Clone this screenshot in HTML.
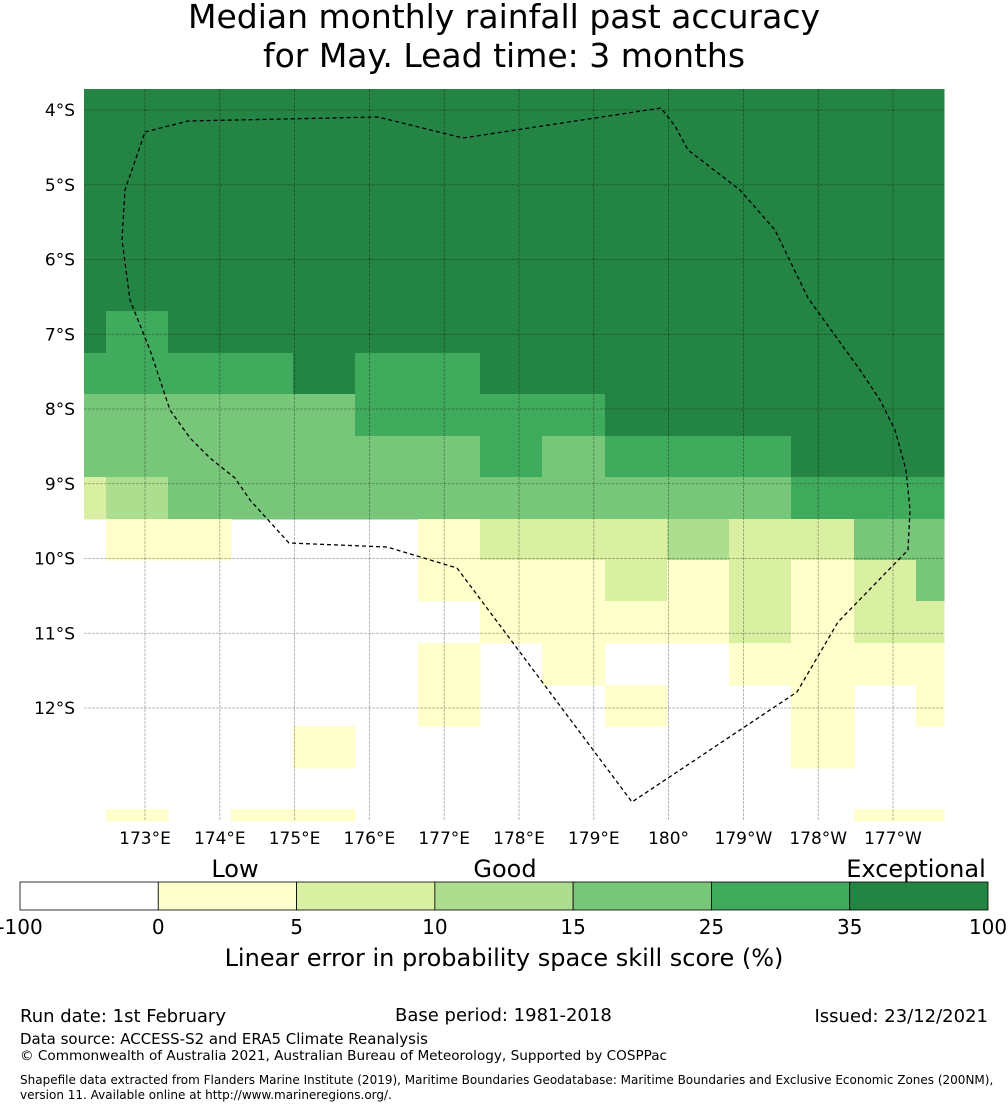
<!DOCTYPE html>
<html><head><meta charset="utf-8"><style>
body{margin:0;background:#fff;font-family:"Liberation Sans","DejaVu Sans",sans-serif;}
svg text{font-family:"DejaVu Sans","Liberation Sans",sans-serif;}
</style></head><body>
<svg id="chart" width="1008" height="1110" xmlns="http://www.w3.org/2000/svg">
<text x="504" y="28" font-size="33" text-anchor="middle">Median monthly rainfall past accuracy</text>
<text x="504" y="67" font-size="33" text-anchor="middle">for May. Lead time: 3 months</text>
<g id="cells"></g>
<g id="grid"></g>
<path d="M145,132 L188,121 L378,117 L463,138 L661,108 L675,126 L688,150 L740,190 L775,230 L808,298 L860,370 L880,400 L895,430 L906,470 L910,510 L908,550 L838,622 L797,692 L632,802 L457,568 L387,547 L289,543 L250,500 L235,478 L210,458 L190,438 L170,410 L150,350 L130,300 L122,240 L125,190 Z" fill="none" stroke="#000" stroke-width="1.3" stroke-dasharray="4,3"/>
<g id="axes"></g>
<g id="cbar"></g>
<text x="235" y="877" font-size="24" text-anchor="middle">Low</text>
<text x="505" y="877" font-size="24" text-anchor="middle">Good</text>
<text x="916" y="877" font-size="24" text-anchor="middle">Exceptional</text>
<text x="504" y="966" font-size="24" text-anchor="middle">Linear error in probability space skill score (%)</text>
<text x="20" y="1022" font-size="18">Run date: 1st February</text>
<text x="395" y="1021" font-size="18">Base period: 1981-2018</text>
<text x="988" y="1022" font-size="18" text-anchor="end">Issued: 23/12/2021</text>
<text x="20" y="1044" font-size="15">Data source: ACCESS-S2 and ERA5 Climate Reanalysis</text>
<text x="20" y="1060" font-size="13.6">© Commonwealth of Australia 2021, Australian Bureau of Meteorology, Supported by COSPPac</text>
<text x="20" y="1084" font-size="12">Shapefile data extracted from Flanders Marine Institute (2019), Maritime Boundaries Geodatabase: Maritime Boundaries and Exclusive Economic Zones (200NM),</text>
<text x="20" y="1099" font-size="12">version 11. Available online at http://www.marineregions.org/.</text>
</svg>
<script>
const colEdges=[84,106,168,231,293,355,418,480,542,605,667,729,791,854,916,944];
const rowEdges=[89,103,145,186,228,270,311,353,394,436,477,519,560,601,643,685,726,768,809,821];
const gridRows=[
"666666666666666",
"666666666666666",
"666666666666666",
"666666666666666",
"666666666666666",
"666666666666666",
"656666666666666",
"555565566666666",
"444445555666666",
"444444454555666",
"234444444444555",
"011000122232244",
"000000111212124",
"000000011112122",
"000000101001111",
"000000100100101",
"000010000000100",
"000000000000000",
"010110000000011"];
const levelColors=["#ffffff","#ffffcc","#d9f0a3","#addd8e","#78c679","#41ab5d","#238443"];
const cbarTicks=["-100","0","5","10","15","25","35","100"];
const lonTicks=["173°E","174°E","175°E","176°E","177°E","178°E","179°E","180°","179°W","178°W","177°W"];
const lonVals=[173,174,175,176,177,178,179,180,181,182,183];
const latTicks=["4°S","5°S","6°S","7°S","8°S","9°S","10°S","11°S","12°S"];
const latVals=[4,5,6,7,8,9,10,11,12];
const NS="http://www.w3.org/2000/svg";
const xLon=l=>145+(l-173)*74.8;
const yLat=l=>110+(l-4)*74.75;
function mk(t,a){const e=document.createElementNS(NS,t);for(const k in a)e.setAttribute(k,a[k]);return e;}
const cells=document.getElementById('cells');
gridRows.forEach((r,i)=>{[...r].forEach((c,j)=>{
 const v=+c; if(v===0)return;
 const e=mk('rect',{x:colEdges[j],y:rowEdges[i],width:colEdges[j+1]-colEdges[j]+0.5,height:rowEdges[i+1]-rowEdges[i]+0.5,fill:levelColors[v]});
 
 
 cells.appendChild(e);});});
const grid=document.getElementById('grid'),axes=document.getElementById('axes');
lonVals.forEach((l,i)=>{
 const x=xLon(l);
 const g=mk('line',{x1:x,x2:x,y1:89,y2:821,stroke:'rgba(0,0,0,0.35)','stroke-width':0.8,'stroke-dasharray':'3,1'});
 
 
 grid.appendChild(g);
 const t=mk('text',{x:x,y:844,'font-size':17,'text-anchor':'middle'});t.textContent=lonTicks[i];
 
 
 axes.appendChild(t);});
latVals.forEach((l,i)=>{
 const y=yLat(l);
 const g=mk('line',{x1:84,x2:944,y1:y,y2:y,stroke:'rgba(0,0,0,0.35)','stroke-width':0.8,'stroke-dasharray':'3,1'});
 
 
 grid.appendChild(g);
 const t=mk('text',{x:75,y:y+6,'font-size':17,'text-anchor':'end'});t.textContent=latTicks[i];
 
 
 axes.appendChild(t);});
const cb=document.getElementById('cbar');const w=(988-20)/7;
for(let i=0;i<7;i++){
 const r=mk('rect',{x:20+i*w,y:882,width:w,height:28,fill:levelColors[i],stroke:'#000','stroke-width':0.8});
 
 
 cb.appendChild(r);}
cbarTicks.forEach((s,i)=>{
 const t=mk('text',{x:20+i*w,y:934,'font-size':20,'text-anchor':'middle'});t.textContent=s;
 
 
 cb.appendChild(t);});
</script>
</body></html>
